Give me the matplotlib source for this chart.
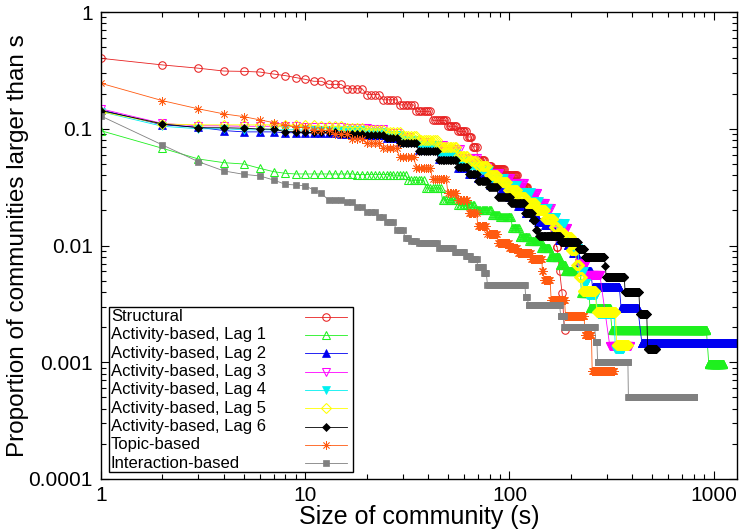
import numpy as np
import matplotlib
matplotlib.use('Agg')
import matplotlib.pyplot as plt
from matplotlib.ticker import FixedLocator, FixedFormatter, NullFormatter, LogLocator
from matplotlib.patches import Rectangle
from matplotlib.lines import Line2D

plt.rcParams['font.family'] = ['Liberation Sans', 'DejaVu Sans']

# ---------------- data ----------------
# knots: value held from each size up to the next knot (CCDF step hold)
# tails: flat runs (start size, end size, proportion)
struct_s = [1, 2, 3, 4, 5, 6, 7, 8, 9, 10, 11, 13, 16, 20, 24, 29, 35, 42, 50, 56, 62, 66, 70, 76, 82, 95, 110, 123, 140, 160]
struct_p = [0.401, 0.352, 0.330, 0.312, 0.310, 0.306, 0.294, 0.285, 0.274, 0.265, 0.255, 0.240, 0.220, 0.196, 0.177,
            0.160, 0.141, 0.118, 0.105, 0.095, 0.085, 0.070, 0.054, 0.048, 0.0455, 0.040, 0.032, 0.022, 0.016, 0.012]
struct_end = 168
struct_tail = [(170, 171, 0.0098), (176, 176, 0.0060), (181, 181, 0.0039), (186, 186, 0.0019)]

lag1_s = [1, 2, 3, 4, 5, 6, 7, 8, 9, 18, 27, 32, 39, 47, 56, 68, 82, 90, 103, 112, 125, 143, 158, 176]
lag1_p = [0.0962, 0.068, 0.0551, 0.0512, 0.0499, 0.0458, 0.0429, 0.0415, 0.041, 0.0405, 0.040, 0.0363, 0.031, 0.0246,
          0.0223, 0.0202, 0.0183, 0.0175, 0.0140, 0.0118, 0.0110, 0.0096, 0.0080, 0.0068]
lag1_end = 187
lag1_tail = [(188, 222, 0.0060), (225, 245, 0.0039), (248, 310, 0.0029), (318, 920, 0.0019), (945, 1110, 0.00097)]

lag2_s = [1, 2, 3, 4, 5, 8, 10, 15, 20, 25, 29, 36, 45, 56, 63, 70, 80, 90, 100, 110, 120, 130, 138, 150, 162, 175]
lag2_p = [0.145, 0.108, 0.103, 0.0965, 0.094, 0.0925, 0.092, 0.091, 0.088, 0.083, 0.077, 0.066, 0.055, 0.046, 0.041,
          0.038, 0.033, 0.029, 0.026, 0.022, 0.019, 0.0175, 0.016, 0.0150, 0.0125, 0.0112]
lag2_end = 190
lag2_tail = [(193, 204, 0.0101), (205, 212, 0.0086), (214, 228, 0.0072), (230, 250, 0.0060), (255, 345, 0.0044),
             (352, 425, 0.0029), (445, 1400, 0.00145)]

lag3_s = [1, 2, 3, 5, 10, 16, 21, 25, 29, 33, 40, 48, 58, 70, 79, 90, 102, 119, 138, 150, 160, 175, 193, 205]
lag3_p = [0.148, 0.111, 0.106, 0.105, 0.104, 0.101, 0.099, 0.092, 0.085, 0.077, 0.072, 0.067, 0.056, 0.047, 0.042,
          0.038, 0.034, 0.028, 0.023, 0.021, 0.0155, 0.014, 0.0105, 0.0095]
lag3_end = 216
lag3_tail = [(218, 238, 0.0071), (240, 277, 0.0056), (310, 390, 0.00137)]

lag4_s = [1, 2, 3, 5, 10, 20, 25, 30, 36, 45, 56, 63, 70, 80, 95, 110, 128, 140, 155, 170, 187, 200, 218, 232]
lag4_p = [0.14, 0.105, 0.100, 0.098, 0.097, 0.094, 0.088, 0.080, 0.072, 0.062, 0.053, 0.048, 0.044, 0.038, 0.033,
          0.029, 0.024, 0.021, 0.0175, 0.0155, 0.011, 0.0095, 0.006, 0.0048]
lag4_end = 238
lag4_tail = [(240, 265, 0.0038), (270, 325, 0.0026), (330, 360, 0.0013)]

lag5_s = [1, 2, 3, 8, 12, 16, 20, 25, 30, 36, 45, 56, 63, 70, 79, 88, 98, 110, 120, 135, 150, 165, 172, 185, 200, 212, 220]
lag5_p = [0.14, 0.11, 0.108, 0.107, 0.105, 0.102, 0.098, 0.093, 0.087, 0.080, 0.070, 0.058, 0.053, 0.048, 0.040,
          0.035, 0.030, 0.026, 0.023, 0.020, 0.017, 0.0145, 0.0128, 0.0118, 0.0092, 0.0068, 0.0054]
lag5_end = 226
lag5_tail = [(228, 262, 0.0041), (268, 330, 0.0027), (335, 380, 0.0014)]

lag6_s = [1, 2, 3, 5, 6, 7, 8, 10, 15, 20, 25, 29, 36, 45, 56, 63, 70, 79, 88, 102, 119, 130]
lag6_p = [0.143, 0.110, 0.102, 0.101, 0.0995, 0.099, 0.0944, 0.093, 0.091, 0.089, 0.083, 0.075, 0.064, 0.054, 0.047,
          0.041, 0.036, 0.032, 0.026, 0.023, 0.019, 0.0165]
lag6_end = 133
lag6_tail = [(135, 136, 0.0137), (140, 176, 0.0121), (178, 216, 0.0107), (218, 232, 0.0094), (234, 290, 0.0080),
             (295, 295, 0.0067), (297, 365, 0.0054), (368, 430, 0.0040), (435, 470, 0.0026), (475, 522, 0.0013)]

topic_s = [1, 2, 3, 4, 5, 6, 7, 8, 9, 11, 14, 17, 20, 24, 29, 35, 42, 50, 56, 63, 70, 78, 88, 100, 110, 128]
topic_p = [0.245, 0.174, 0.148, 0.134, 0.127, 0.119, 0.113, 0.108, 0.103, 0.097, 0.090, 0.082, 0.075, 0.068, 0.057,
           0.046, 0.037, 0.028, 0.0246, 0.019, 0.0148, 0.0125, 0.0105, 0.0095, 0.0086, 0.0076]
topic_end = 144
topic_tail = [(145, 146, 0.0060), (148, 158, 0.0051), (160, 186, 0.0034), (188, 232, 0.0025), (234, 252, 0.0017),
              (254, 325, 0.00084)]

inter_s = [1, 2, 3, 4, 5, 6, 7, 8, 9, 10, 11, 12, 13, 16, 18, 20, 23, 25, 28, 31, 33, 36, 45, 54, 61, 65, 70, 75]
inter_p = [0.1285, 0.0726, 0.0522, 0.0435, 0.0407, 0.0394, 0.0364, 0.0334, 0.033, 0.0324, 0.0299, 0.028, 0.0245,
           0.0237, 0.0215, 0.0194, 0.0176, 0.0159, 0.0135, 0.0115, 0.011, 0.0105, 0.0095, 0.0088, 0.0081, 0.0076,
           0.0066, 0.0058]
inter_end = 77
inter_tail = [(78, 119, 0.0046), (120, 122, 0.0036), (124, 176, 0.0031), (178, 184, 0.0025), (185, 261, 0.0020),
              (265, 268, 0.0015), (270, 380, 0.0010), (382, 800, 0.000505)]

labels = ["Structural", "Activity-based, Lag 1", "Activity-based, Lag 2", "Activity-based, Lag 3",
          "Activity-based, Lag 4", "Activity-based, Lag 5", "Activity-based, Lag 6", "Topic-based",
          "Interaction-based"]

x_ticks = [1, 10, 100, 1000]
x_ticklabels = ["1", "10", "100", "1000"]
y_ticks = [0.0001, 0.001, 0.01, 0.1, 1]
y_ticklabels = ["0.0001", "0.001", "0.01", "0.1", "1"]


def expand(ks, kp, end, tail):
    xs, ys = [], []
    for i in range(len(ks)):
        s1 = ks[i + 1] - 1 if i + 1 < len(ks) else end
        for s in range(ks[i], s1 + 1):
            xs.append(s)
            ys.append(kp[i])
    for a, b, p in tail:
        for s in range(a, b + 1):
            xs.append(s)
            ys.append(p)
    return np.array(xs, dtype=float), np.array(ys)


series = [
    (struct_s, struct_p, struct_end, struct_tail),
    (lag1_s, lag1_p, lag1_end, lag1_tail),
    (lag2_s, lag2_p, lag2_end, lag2_tail),
    (lag3_s, lag3_p, lag3_end, lag3_tail),
    (lag4_s, lag4_p, lag4_end, lag4_tail),
    (lag5_s, lag5_p, lag5_end, lag5_tail),
    (lag6_s, lag6_p, lag6_end, lag6_tail),
    (topic_s, topic_p, topic_end, topic_tail),
    (inter_s, inter_p, inter_end, inter_tail),
]

styles = [
    dict(color='#e82020', marker='o', mfc='none', ms=5.4, mew=0.75),
    dict(color='#1ef01e', marker='^', mfc='none', ms=5.6, mew=0.75),
    dict(color='#0000f0', marker='^', ms=5.2, mew=0.5),
    dict(color='#ff00ff', marker='v', mfc='none', ms=5.6, mew=0.75),
    dict(color='#00f0f0', marker='v', ms=5.2, mew=0.5),
    dict(color='#ffff00', marker='D', mfc='none', ms=4.8, mew=0.75),
    dict(color='#000000', marker='D', ms=4.0, mew=0.5),
    dict(color='#ff5a10', marker=(8, 2, 0), ms=6.0, mew=0.55),
    dict(color='#808080', marker='s', ms=4.8, mew=0.5),
]

W, H = 741, 531
fig = plt.figure(figsize=(W / 100, H / 100), dpi=100)
ax = fig.add_axes([101 / W, 52 / H, 636 / W, 467 / H])

for (ks, kp, end, tail), st, lab in zip(series, styles, labels):
    x, y = expand(ks, kp, end, tail)
    ax.plot(x, y, lw=0.6, label=lab, **st)

ax.set_xscale('log')
ax.set_yscale('log')
ax.set_xlim(1, 1300)
ax.set_ylim(1e-4, 1)

ax.xaxis.set_major_locator(FixedLocator(x_ticks))
ax.xaxis.set_major_formatter(FixedFormatter(x_ticklabels))
ax.yaxis.set_major_locator(FixedLocator(y_ticks))
ax.yaxis.set_major_formatter(FixedFormatter(y_ticklabels))
ax.xaxis.set_minor_locator(LogLocator(base=10, subs=np.arange(2, 10), numticks=20))
ax.yaxis.set_minor_locator(LogLocator(base=10, subs=np.arange(2, 10), numticks=20))
ax.xaxis.set_minor_formatter(NullFormatter())
ax.yaxis.set_minor_formatter(NullFormatter())

ax.tick_params(which='both', direction='in', top=True, right=True, labelsize=15, width=0.8)
ax.tick_params(which='major', length=6)
ax.tick_params(which='minor', length=3.5)
ax.tick_params(axis='y', pad=6)
ax.tick_params(axis='x', pad=5)
for sp in ax.spines.values():
    sp.set_linewidth(1.0)

ax.set_xlabel("Size of community (s)", fontsize=18, labelpad=0)
ax.set_ylabel("Proportion of communities larger than s", fontsize=17.5)
ax.yaxis.set_label_coords((29 - 101) / 636, 0.5)

# ---- gnuplot-style key: left-aligned labels, samples on the right ----
def fx(px):
    return px / W


def fy(py):
    return 1 - py / H


box = Rectangle((fx(109), fy(472)), fx(353) - fx(109), fy(307) - fy(472), transform=fig.transFigure,
                facecolor='white', edgecolor='black', lw=1.0, zorder=5)
fig.add_artist(box)
for i, (lab, st) in enumerate(zip(labels, styles)):
    yc = 316.5 + i * 18.35
    fig.text(fx(111), fy(yc), lab, fontsize=12, ha='left', va='center', zorder=6)
    fig.add_artist(Line2D([fx(305), fx(347)], [fy(yc), fy(yc)], transform=fig.transFigure,
                          color=st['color'], lw=0.6, zorder=6))
    mst = {k: v for k, v in st.items() if k != 'color'}
    fig.add_artist(Line2D([fx(326)], [fy(yc)], transform=fig.transFigure, color=st['color'],
                          linestyle='none', zorder=7, **mst))

fig.savefig('out.png', dpi=100)
